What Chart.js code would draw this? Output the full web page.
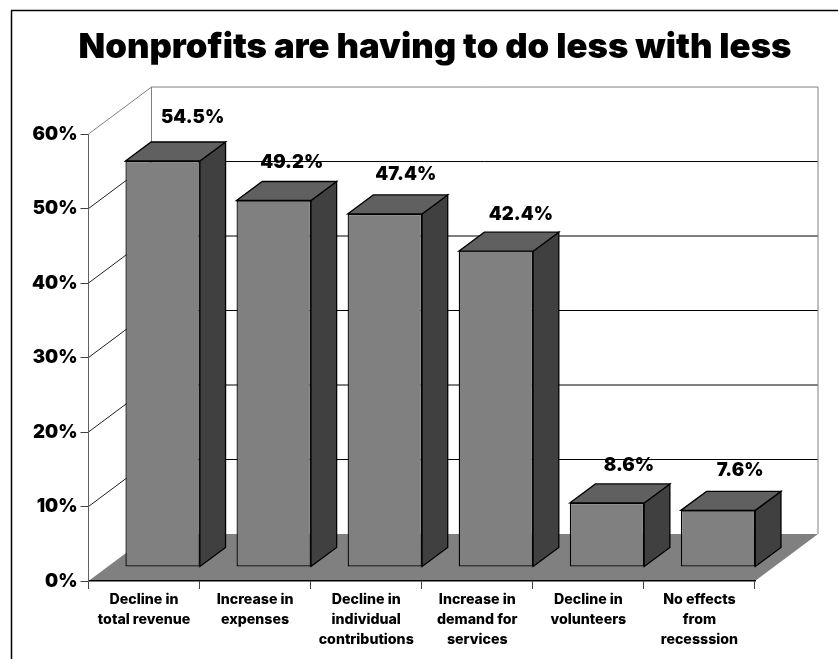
<!DOCTYPE html>
<html>
<head>
<meta charset="utf-8">
<script src="https://cdn.jsdelivr.net/npm/chart.js@4"></script>
<style>
  html, body { margin: 0; padding: 0; background: #fff; }
  #wrap { position: relative; width: 838px; height: 659px; }
</style>
</head>
<body>
<div id="wrap"><canvas id="chart" width="838" height="659"></canvas></div>
<script>
// Chart data
const categories = [
  ['Decline in', 'total revenue'],
  ['Increase in', 'expenses'],
  ['Decline in', 'individual', 'contributions'],
  ['Increase in', 'demand for', 'services'],
  ['Decline in', 'volunteers'],
  ['No effects', 'from', 'recesssion']
];
const percentages = [54.5, 49.2, 47.4, 42.4, 8.6, 7.6];
const titleText = 'Nonprofits are having to do less with less';

// Pseudo-3D projection settings
const DEPTH_X = 63, DEPTH_Y = 47;         // box floor depth
const BAR_DX = 18.6, BAR_DY = 14;         // bar position within the floor
const FACE_DX = 25.7, FACE_DY = 19;       // bar depth
const FACE_FRONT = '#808080', FACE_TOP = '#606060', FACE_SIDE = '#404040';
const WALL_EDGE = '#808080';
// Nudges for the value labels relative to each bar's front-top centre
const labelNudge = [[30, -44], [18, -38], [21, -39], [25, -37], [22, -37], [22, -40]];
const FONT_FAMILY = 'Inter, "Noto Sans", sans-serif';

function line(ctx, x1, y1, x2, y2, color, width) {
  ctx.strokeStyle = color; ctx.lineWidth = width || 1;
  ctx.beginPath(); ctx.moveTo(x1, y1); ctx.lineTo(x2, y2); ctx.stroke();
}
function poly(ctx, pts, fill, stroke) {
  ctx.beginPath();
  pts.forEach((p, i) => i ? ctx.lineTo(p[0], p[1]) : ctx.moveTo(p[0], p[1]));
  ctx.closePath();
  if (fill) { ctx.fillStyle = fill; ctx.fill(); }
  if (stroke) { ctx.strokeStyle = stroke; ctx.lineWidth = 1.3; ctx.stroke(); }
}

const frame3d = {
  id: 'frame3d',
  afterLayout(chart) {
    // Centre the title over the plot's full projected width
    chart.titleBlock.left = 78;
    chart.titleBlock.right = 792;
  },
  beforeDraw(chart) {
    const ctx = chart.ctx;
    ctx.save();
    ctx.fillStyle = '#fff';
    ctx.fillRect(0, 0, chart.width, chart.height);
    // Outer border on the top and left edges
    line(ctx, 11.5, 10.5, 11.5, chart.height, '#000', 1.5);
    line(ctx, 11, 10.5, chart.width, 10.5, '#000', 1.5);
    ctx.restore();
  },
  beforeDatasetsDraw(chart) {
    const ctx = chart.ctx, a = chart.chartArea, y = chart.scales.y;
    ctx.save();
    // Floor
    poly(ctx, [[a.left, a.bottom], [a.left + DEPTH_X, a.bottom - DEPTH_Y],
               [a.right + DEPTH_X, a.bottom - DEPTH_Y], [a.right, a.bottom]], '#808080');
    // Gridlines wrap from the left wall onto the back wall
    y.ticks.forEach(t => {
      if (t.value === 0) return;
      const py = y.getPixelForValue(t.value);
      const isTop = t.value === y.max;
      const col = isTop ? WALL_EDGE : '#000';
      line(ctx, a.left, py, a.left + DEPTH_X, py - DEPTH_Y, isTop ? WALL_EDGE : '#202020', 1);
      line(ctx, a.left + DEPTH_X, py - DEPTH_Y, a.right + DEPTH_X, py - DEPTH_Y, col, 1);
    });
    // Back wall verticals
    line(ctx, a.left + DEPTH_X, a.top - DEPTH_Y, a.left + DEPTH_X, a.bottom - DEPTH_Y, WALL_EDGE, 1);
    line(ctx, a.right + DEPTH_X, a.top - DEPTH_Y, a.right + DEPTH_X, a.bottom - DEPTH_Y, WALL_EDGE, 1);
    ctx.restore();
  },
  beforeDatasetDraw(chart, args) {
    const ctx = chart.ctx;
    ctx.save();
    ctx.translate(BAR_DX, -BAR_DY);
    // Side and top faces sit behind the front face of each bar
    args.meta.data.forEach(bar => {
      const l = bar.x - bar.width / 2, r = bar.x + bar.width / 2, t = bar.y, b = bar.base;
      poly(ctx, [[r, t], [r + FACE_DX, t - FACE_DY], [r + FACE_DX, b - FACE_DY], [r, b]], FACE_SIDE, '#000');
      poly(ctx, [[l, t], [l + FACE_DX, t - FACE_DY], [r + FACE_DX, t - FACE_DY], [r, t]], FACE_TOP, '#000');
    });
  },
  afterDatasetDraw(chart) {
    chart.ctx.restore();
  },
  afterDatasetsDraw(chart) {
    const ctx = chart.ctx, meta = chart.getDatasetMeta(0);
    ctx.save();
    ctx.font = '900 18.5px ' + FONT_FAMILY;
    ctx.fillStyle = '#000';
    ctx.textAlign = 'center';
    ctx.textBaseline = 'middle';
    meta.data.forEach((bar, i) => {
      const n = labelNudge[i];
      ctx.fillText(percentages[i].toFixed(1) + '%', bar.x + BAR_DX + n[0], bar.y - BAR_DY + n[1]);
    });
    ctx.restore();
  }
};

new Chart(document.getElementById('chart'), {
  type: 'bar',
  data: {
    labels: categories,
    datasets: [{
      data: percentages,
      backgroundColor: FACE_FRONT,
      borderColor: '#000',
      borderWidth: 1.3,
      borderSkipped: false,
      barPercentage: 1,
      categoryPercentage: 0.67,
      clip: false
    }]
  },
  options: {
    responsive: false,
    animation: false,
    layout: { padding: { left: 0, right: 83, top: 0, bottom: 0 } },
    plugins: {
      legend: { display: false },
      tooltip: { enabled: false },
      title: {
        display: true,
        text: titleText,
        color: '#000',
        font: { family: FONT_FAMILY, size: 34.7, weight: '900', lineHeight: 1.2 },
        padding: { top: 26.5, bottom: 65.9 }
      }
    },
    scales: {
      x: {
        grid: { display: true, drawOnChartArea: false, color: '#404040', tickLength: 8 },
        border: { color: '#000', width: 1.5, z: 1 },
        ticks: {
          color: '#000', maxRotation: 0, autoSkip: false, padding: 1,
          font: { family: FONT_FAMILY, size: 14.2, weight: '800', lineHeight: 1.41 }
        },
        afterFit(s) { s.height = 78; }
      },
      y: {
        min: 0, max: 60,
        grid: { display: true, drawOnChartArea: false, color: '#404040', tickLength: 8 },
        border: { color: '#606060', width: 1, z: 1 },
        ticks: {
          stepSize: 10, color: '#000', padding: 3,
          font: { family: FONT_FAMILY, size: 18.5, weight: '900' },
          callback: v => v + '%'
        },
        afterFit(s) { s.width = 88.5; }
      }
    }
  },
  plugins: [frame3d]
});
</script>
</body>
</html>
